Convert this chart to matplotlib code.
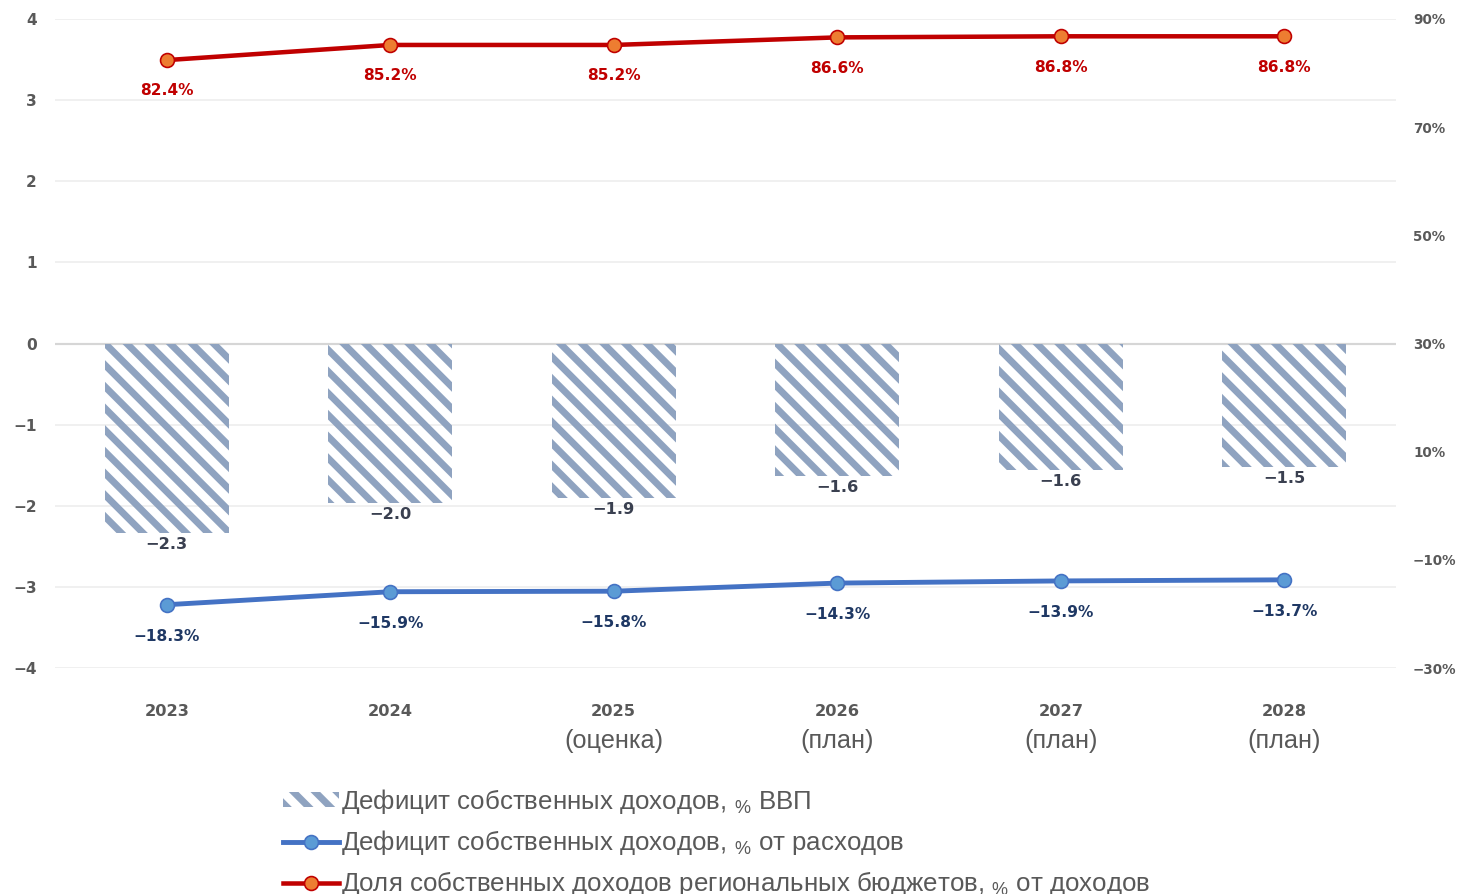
import matplotlib
matplotlib.use("Agg")
import matplotlib.pyplot as plt
import numpy as np
from matplotlib import rc

rc('mathtext', default='regular')
plt.rcParams['hatch.linewidth'] = 3.8

years = ['2023', '2024', '2025', '2026', '2027', '2028']
sublabels = ['', '', '(оценка)', '(план)', '(план)', '(план)']
deficit_gdp = [-2.33, -1.96, -1.90, -1.63, -1.56, -1.52]      # % ВВП
deficit_exp = [-18.3, -15.9, -15.8, -14.3, -13.9, -13.7]      # % от расходов
own_share = [82.4, 85.2, 85.2, 86.6, 86.8, 86.8]              # % от доходов
left_ticks = [-4, -3, -2, -1, 0, 1, 2, 3, 4]
right_ticks = [-30, -10, 10, 30, 50, 70, 90]

gray = '#595959'
hatch_col = '#8fa3c0'
red = '#c00000'
blue = '#4472c4'

dpi = 130
fig = plt.figure(figsize=(1457 / dpi, 894 / dpi), dpi=dpi)
ax1 = fig.add_axes([55 / 1457, 1 - 668 / 894, (1396 - 55) / 1457, (668 - 19) / 894])
ax2 = ax1.twinx()

x = np.arange(len(years))

# grid
for t in left_ticks:
    if t == 0:
        ax1.axhline(t, color='#d6d6d6', lw=1.2, zorder=1)
    else:
        ax1.axhline(t, color='#ededed', lw=0.9, zorder=0)

bars = ax1.bar(x, deficit_gdp, width=0.555, facecolor='none', edgecolor=hatch_col,
               linewidth=0, hatch='\\\\', zorder=2,
               label='Дефицит собственных доходов, $_{\\%}$ ВВП')
for xi, v in zip(x, deficit_gdp):
    ax1.annotate(f'{v:.1f}'.replace('-', '\u2212'), (xi, v), xytext=(0, -6.6),
                 textcoords='offset points', ha='center', va='center',
                 fontsize=9, fontweight='bold', color='#3a4050', zorder=5)

ax1.set_xlim(-0.5, len(years) - 0.5)
ax1.set_ylim(-4, 4)
ax1.set_yticks(left_ticks)
ax1.set_yticklabels([str(t).replace('-', '\u2212') for t in left_ticks])
ax1.set_xticks(x)
ax1.set_xticklabels(years)
ax1.tick_params(axis='y', length=0, pad=10, labelsize=8.5, labelcolor=gray)
ax1.tick_params(axis='x', length=0, pad=20, labelsize=9, labelcolor=gray)
for lab in ax1.get_xticklabels() + ax1.get_yticklabels():
    lab.set_fontweight('bold')
for xi, s in zip(x, sublabels):
    if s:
        ax1.annotate(s, (xi, 0), xycoords=('data', 'axes fraction'), xytext=(0, -40.5),
                     textcoords='offset points', ha='center', va='center',
                     fontsize=14, family='Liberation Sans', color=gray)

# lines on the right axis
l_blue, = ax2.plot(x, deficit_exp, color=blue, lw=2.7, marker='o', markersize=7.7,
                   markerfacecolor='#5b9bd5', markeredgecolor=blue, markeredgewidth=0.9,
                   zorder=3, label='Дефицит собственных доходов, $_{\\%}$ от расходов')
l_red, = ax2.plot(x, own_share, color=red, lw=2.5, marker='o', markersize=7.7,
                  markerfacecolor='#ed7d31', markeredgecolor=red, markeredgewidth=0.9,
                  zorder=3, label='Доля собственных доходов региональных бюджетов, $_{\\%}$ от доходов')
for xi, v in zip(x, deficit_exp):
    ax2.annotate(f'{v:.1f}%'.replace('-', '\u2212'), (xi, v), xytext=(0, -17.5),
                 textcoords='offset points', ha='center', va='center',
                 fontsize=8.5, fontweight='bold', color='#1f3864')
for xi, v in zip(x, own_share):
    ax2.annotate(f'{v:.1f}%', (xi, v), xytext=(0, -17),
                 textcoords='offset points', ha='center', va='center',
                 fontsize=8.5, fontweight='bold', color=red)

ax2.set_ylim(-30, 90)
ax2.set_yticks(right_ticks)
ax2.set_yticklabels([f'{t}%'.replace('-', '\u2212') for t in right_ticks])
ax2.tick_params(axis='y', length=0, pad=9.4, labelsize=7.5, labelcolor=gray)
for lab in ax2.get_yticklabels():
    lab.set_fontweight('bold')

for a in (ax1, ax2):
    for sp in a.spines.values():
        sp.set_visible(False)

fig.legend([bars, l_blue, l_red], [bars.get_label(), l_blue.get_label(), l_red.get_label()],
           loc='upper left', bbox_to_anchor=(283 / 1457, 1 - 787 / 894),
           frameon=False, prop={'family': 'Liberation Sans', 'size': 14.3},
           labelcolor=gray, handlelength=2.15, handleheight=0.5, handletextpad=0.1,
           labelspacing=0.47, borderpad=0, borderaxespad=0)

fig.savefig('out.png', dpi=dpi)
